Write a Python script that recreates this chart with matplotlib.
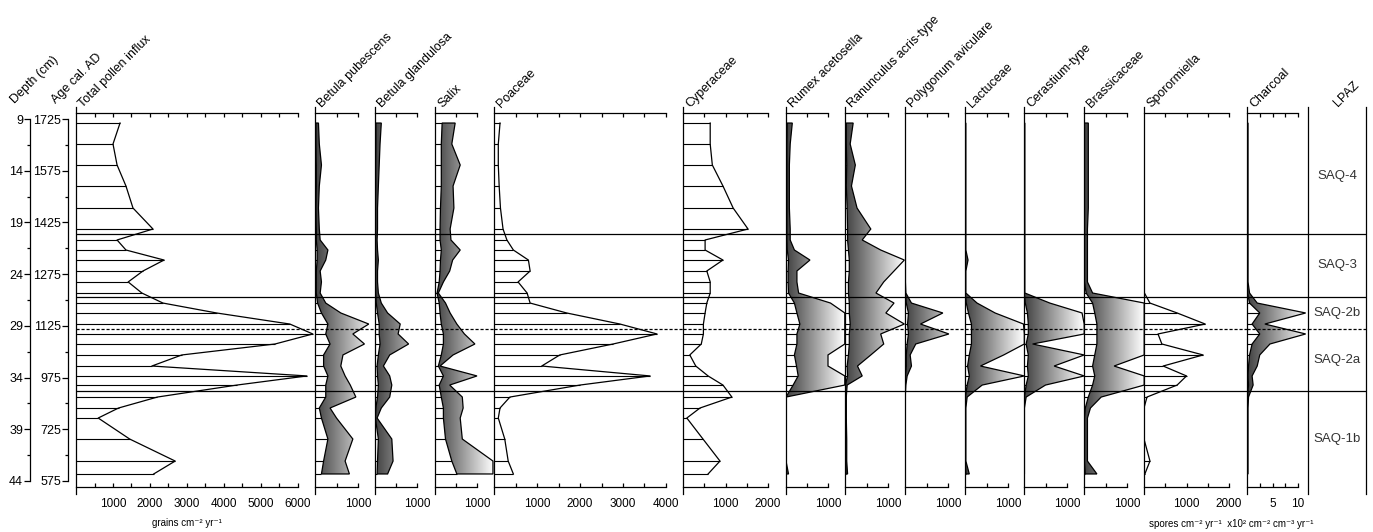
import numpy as np
import matplotlib
matplotlib.use('Agg')
import matplotlib.pyplot as plt
from matplotlib.patches import Polygon
from matplotlib.colors import LinearSegmentedColormap

plt.rcParams['font.family'] = ['Liberation Sans', 'DejaVu Sans']

# sample depths (cm)
depth = np.array([9.39, 11.42, 13.45, 15.48, 17.61, 19.64, 20.70, 21.67, 22.64, 23.70,
                  24.76, 25.83, 26.80, 27.76, 28.83, 29.79, 30.76, 31.82, 32.89, 33.85,
                  34.73, 35.89, 36.95, 37.92, 39.95, 42.08, 43.33])

depth_ticks = [9, 14, 19, 24, 29, 34, 39, 44]
age_labels = ['1725', '1575', '1425', '1275', '1125', '975', '725', '575']

zone_bounds = [9.0, 20.12, 26.21, 29.30, 35.31, 44.6]
zone_names = ['SAQ-4', 'SAQ-3', 'SAQ-2b', 'SAQ-2a', 'SAQ-1b']
zone_dashed = [29.30]
zone_solid = [20.12, 26.21, 35.31]

# outline taxa (white with sample bars)
total = [1190, 1000, 1110, 1350, 1540, 2080, 1110, 1350, 2380, 1810, 1410, 1780, 2350, 3800,
         5780, 6400, 5380, 2860, 2050, 6240, 4350, 2200, 1150, 600, 1450, 2680, 2100]
poaceae = [140, 100, 100, 120, 150, 210, 300, 450, 800, 840, 560, 770, 840, 1690,
           2930, 3790, 2770, 1530, 1110, 3630, 2000, 370, 140, 100, 250, 330, 450]
cyperaceae = [640, 640, 690, 940, 1180, 1530, 520, 520, 940, 560, 640, 640, 560, 520,
              480, 480, 430, 160, 300, 590, 940, 1150, 400, 90, 470, 870, 590]
sporormiella = [0, 0, 0, 0, 0, 0, 0, 0, 0, 0, 0, 10, 140, 780,
                1440, 330, 420, 1390, 450, 1000, 780, 70, 0, 0, 0, 140, 20]

# shaded taxa: outer curve and inner (left) edge of the shading
bpub = [80, 100, 150, 100, 80, 100, 120, 300, 250, 120, 150, 120, 250, 600,
        1250, 880, 1150, 650, 600, 700, 820, 950, 350, 500, 880, 700, 800]
bpub_in = [20, 20, 30, 30, 20, 30, 30, 50, 50, 30, 30, 30, 60, 150,
           300, 250, 350, 200, 200, 300, 250, 250, 100, 150, 300, 200, 150]
bgla = [150, 120, 100, 80, 60, 60, 50, 60, 80, 60, 60, 80, 150, 300,
        600, 550, 800, 350, 200, 350, 400, 350, 150, 50, 400, 430, 300]
bgla_in = [20, 20, 15, 15, 10, 10, 10, 10, 15, 10, 10, 15, 30, 60,
           100, 100, 120, 80, 50, 60, 80, 60, 20, 10, 80, 60, 50]
salix = [480, 400, 600, 430, 450, 360, 380, 600, 420, 350, 200, 80, 250, 360,
         520, 700, 950, 430, 120, 1000, 350, 650, 670, 600, 650, 1380, 1380]
salix_in = [170, 150, 150, 150, 130, 120, 120, 150, 130, 120, 100, 50, 100, 120,
            150, 200, 200, 150, 80, 200, 100, 150, 200, 200, 250, 400, 520]
rumex = [150, 100, 80, 80, 80, 100, 100, 200, 570, 260, 260, 300, 1060, 1400,
         1400, 1400, 1400, 1000, 1000, 1400, 1400, 0, 0, 0, 0, 0, 60]
rumex_in = [30, 20, 20, 20, 20, 20, 20, 30, 60, 50, 50, 60, 200, 260,
            330, 260, 260, 200, 250, 290, 170, 0, 0, 0, 0, 0, 10]
ranun = [190, 120, 240, 150, 280, 600, 400, 830, 1380, 1140, 900, 720, 1140, 950,
         1380, 830, 900, 600, 290, 400, 50, 30, 30, 30, 40, 40, 60]
ranun_in = [30, 30, 40, 30, 50, 60, 60, 80, 100, 100, 80, 80, 100, 100,
            120, 100, 100, 80, 50, 60, 10, 10, 10, 10, 10, 10, 20]
polyg = [5, 5, 5, 5, 5, 5, 10, 10, 10, 10, 10, 20, 150, 880,
         360, 1020, 250, 120, 150, 50, 20, 5, 5, 5, 5, 5, 5]
polyg_in = [0, 0, 0, 0, 0, 0, 0, 0, 0, 0, 0, 5, 30, 80,
            60, 80, 50, 30, 30, 10, 5, 0, 0, 0, 0, 0, 0]
lact = [20, 20, 20, 20, 20, 20, 20, 20, 70, 20, 20, 20, 280, 700,
        1360, 1380, 1380, 900, 360, 1380, 400, 50, 20, 20, 20, 20, 100]
lact_in = [5, 5, 5, 5, 5, 5, 5, 5, 10, 5, 5, 5, 30, 80,
           150, 150, 150, 100, 60, 100, 50, 10, 5, 5, 5, 5, 20]
cera = [20, 20, 20, 20, 20, 20, 20, 20, 20, 20, 20, 20, 600, 1350,
        1400, 1400, 200, 1400, 700, 1400, 500, 50, 10, 10, 10, 10, 10]
cera_in = [5, 5, 5, 5, 5, 5, 5, 5, 5, 5, 5, 5, 30, 80,
           100, 100, 50, 100, 80, 100, 50, 10, 0, 0, 0, 0, 0]
brass = [100, 100, 100, 100, 100, 80, 80, 80, 80, 80, 80, 200, 1400, 1400,
         1400, 1400, 1400, 1400, 700, 1400, 1400, 400, 150, 80, 80, 80, 300]
brass_in = [10, 10, 10, 10, 10, 10, 10, 10, 10, 10, 10, 50, 200, 250,
            300, 300, 300, 250, 200, 250, 200, 100, 30, 10, 10, 10, 30]
charcoal = [0.2, 0.2, 0.2, 0.2, 0.2, 0.2, 0.2, 0.2, 0.2, 0.2, 0.2, 0.5, 2.0, 11.5,
            3.5, 11.5, 4.5, 2.5, 2.0, 1.0, 1.2, 0.3, 0.2, 0.2, 0.2, 0.2, 0.2]
charcoal_in = [0.0, 0.0, 0.0, 0.0, 0.0, 0.0, 0.0, 0.0, 0.0, 0.0, 0.0, 0.1, 0.5, 2.5,
               1.0, 2.5, 1.0, 0.5, 0.3, 0.2, 0.3, 0.1, 0.0, 0.0, 0.0, 0.0, 0.0]

W, H = 1373, 532
fig = plt.figure(figsize=(W / 100, H / 100), dpi=100)

def px2depth(y):
    return 9 + (y - 119) / 10.34

Y_TOP, Y_BOT = 107, 494
D_TOP, D_BOT = px2depth(Y_TOP), px2depth(Y_BOT)
D_AX_TOP, D_AX_BOT = px2depth(113), px2depth(487)

cmap = LinearSegmentedColormap.from_list('shade', ['#404040', '#ffffff'])
LW = 0.9
FS = 8.5


def title(x, y, s):
    # rotated column heading, glyphs start near (x, y) in pixels
    fig.text((x + 5) / W, 1 - y / H, s, rotation=45, rotation_mode='anchor',
             ha='left', va='baseline', fontsize=9)


def new_axes(x0, x1):
    ax = fig.add_axes([x0 / W, 1 - Y_BOT / H, (x1 - x0) / W, (Y_BOT - Y_TOP) / H])
    ax.patch.set_visible(False)
    return ax


def panel(x0, x1, scale, axis_end, step, label_step, name, fmt='{:d}'):
    ax = new_axes(x0, x1)
    xmax = (x1 - x0) / scale
    ax.spines['right'].set_visible(False)
    ax.spines['left'].set_linewidth(LW)
    for s in ['top', 'bottom']:
        ax.spines[s].set_position(('data', D_AX_BOT if s == 'bottom' else D_AX_TOP))
        ax.spines[s].set_bounds(0, axis_end)
        ax.spines[s].set_linewidth(LW)
    ticks = np.arange(step, axis_end + step / 2, step)
    labels = [fmt.format(int(round(t))) if abs(t / label_step - round(t / label_step)) < 1e-6 else ''
              for t in ticks]
    ax.set_xticks(ticks)
    ax.set_xticklabels(labels)
    ax.tick_params(axis='x', which='both', direction='in', length=3, width=LW,
                   top=True, labeltop=False, labelsize=FS, pad=8)
    ax.set_yticks([])
    ax.set_xlim(0, xmax)
    ax.set_ylim(D_BOT, D_TOP)
    title(x0 + 2, 108, name)
    return ax, xmax


def zones(ax):
    for z in zone_solid:
        ax.axhline(z, color='k', lw=LW, zorder=6)
    for z in zone_dashed:
        ax.axhline(z, color='k', lw=LW, ls=(0, (2.5, 1.5)), zorder=6)


def outline(ax, vals):
    ax.hlines(depth, 0, vals, colors='k', lw=LW * 0.9, zorder=2)
    ax.plot(vals, depth, color='k', lw=LW, zorder=3)


def shaded(ax, xmax, outer, inner):
    ax.hlines(depth, 0, inner, colors='k', lw=LW * 0.9, zorder=1)
    verts = np.r_[np.c_[outer, depth], np.c_[inner, depth][::-1]]
    poly = Polygon(verts, closed=True, fc='none', ec='k', lw=LW, zorder=3)
    ax.add_patch(poly)
    grad = np.linspace(0, 1, 256).reshape(1, -1)
    im = ax.imshow(grad, extent=[0, xmax, D_AX_BOT, D_AX_TOP], aspect='auto',
                   cmap=cmap, zorder=2, interpolation='bilinear')
    im.set_clip_path(poly)
    ax.set_xlim(0, xmax)
    ax.set_ylim(D_BOT, D_TOP)


# depth and age axes
for xpos, labels, name, tx in [(30, [str(d) for d in depth_ticks], 'Depth (cm)', 10),
                              (68, age_labels, 'Age cal. AD', 51)]:
    ax = new_axes(xpos, xpos + 2)
    for s in ['top', 'bottom', 'right']:
        ax.spines[s].set_visible(False)
    ax.spines['left'].set_bounds(depth_ticks[0], depth_ticks[-1])
    ax.spines['left'].set_linewidth(LW)
    ax.set_xticks([])
    ax.set_ylim(D_BOT, D_TOP)
    ax.set_yticks(depth_ticks)
    ax.set_yticklabels(labels)
    ax.set_yticks([d + 2.5 for d in depth_ticks[:-1]], minor=True)
    ax.tick_params(axis='y', which='major', length=4, width=LW, labelsize=9, pad=1)
    ax.tick_params(axis='y', which='minor', length=2.5, width=LW)
    title(tx, 104, name)

# outline panels
ax, xm = panel(76, 315, 0.037, 6000, 500, 1000, 'Total pollen influx')
outline(ax, total)
zones(ax)

shaded_specs = [
    (315, 375, 0.043, 'Betula pubescens', bpub, bpub_in),
    (375, 435, 0.042, 'Betula glandulosa', bgla, bgla_in),
    (435, 494, 0.042, 'Salix', salix, salix_in),
]
for x0, x1, sc, name, outer, inner in shaded_specs:
    ax, xm = panel(x0, x1, sc, 1000, 500, 1000, name)
    shaded(ax, xm, outer, inner)
    zones(ax)

ax, xm = panel(494, 683, 0.043, 4000, 500, 1000, 'Poaceae')
outline(ax, poaceae)
zones(ax)

ax, xm = panel(683, 786, 0.0425, 2000, 500, 1000, 'Cyperaceae')
outline(ax, cyperaceae)
zones(ax)

shaded_specs = [
    (786, 845, 0.042, 'Rumex acetosella', rumex, rumex_in),
    (845, 905, 0.043, 'Ranunculus acris-type', ranun, ranun_in),
    (905, 965, 0.043, 'Polygonum aviculare', polyg, polyg_in),
    (965, 1024, 0.043, 'Lactuceae', lact, lact_in),
    (1024, 1084, 0.043, 'Cerastium-type', cera, cera_in),
    (1084, 1144, 0.043, 'Brassicaceae', brass, brass_in),
]
for x0, x1, sc, name, outer, inner in shaded_specs:
    ax, xm = panel(x0, x1, sc, 1000, 500, 1000, name)
    shaded(ax, xm, outer, inner)
    zones(ax)

ax, xm = panel(1144, 1247, 0.0425, 2000, 500, 1000, 'Sporormiella')
outline(ax, sporormiella)
zones(ax)

ax, xm = panel(1247, 1308, 5.1, 10, 2.5, 5, 'Charcoal')
shaded(ax, xm, charcoal, charcoal_in)
zones(ax)

# LPAZ column
ax = new_axes(1308, 1366)
ax.spines['top'].set_visible(False)
ax.spines['bottom'].set_visible(False)
for s in ['left', 'right']:
    ax.spines[s].set_linewidth(LW)
ax.set_xticks([])
ax.set_yticks([])
ax.set_xlim(0, 1)
ax.set_ylim(D_BOT, D_TOP)
zones(ax)
for i, name in enumerate(zone_names):
    ax.text(0.5, (zone_bounds[i] + zone_bounds[i + 1]) / 2, name, ha='center', va='center',
            fontsize=9.5, color='#333333')
title(1333, 107, 'LPAZ')

# unit labels
fig.text(187 / W, 1 - 523 / H, 'grains cm\u207b\u00b2 yr\u207b\u00b9', ha='center', va='center',
         fontsize=7)
fig.text(1231 / W, 1 - 524 / H,
         'spores cm\u207b\u00b2 yr\u207b\u00b9  x10\u00b2 cm\u207b\u00b2 cm\u207b\u00b3 yr\u207b\u00b9',
         ha='center', va='center', fontsize=7)

fig.savefig('out.png', dpi=100)
